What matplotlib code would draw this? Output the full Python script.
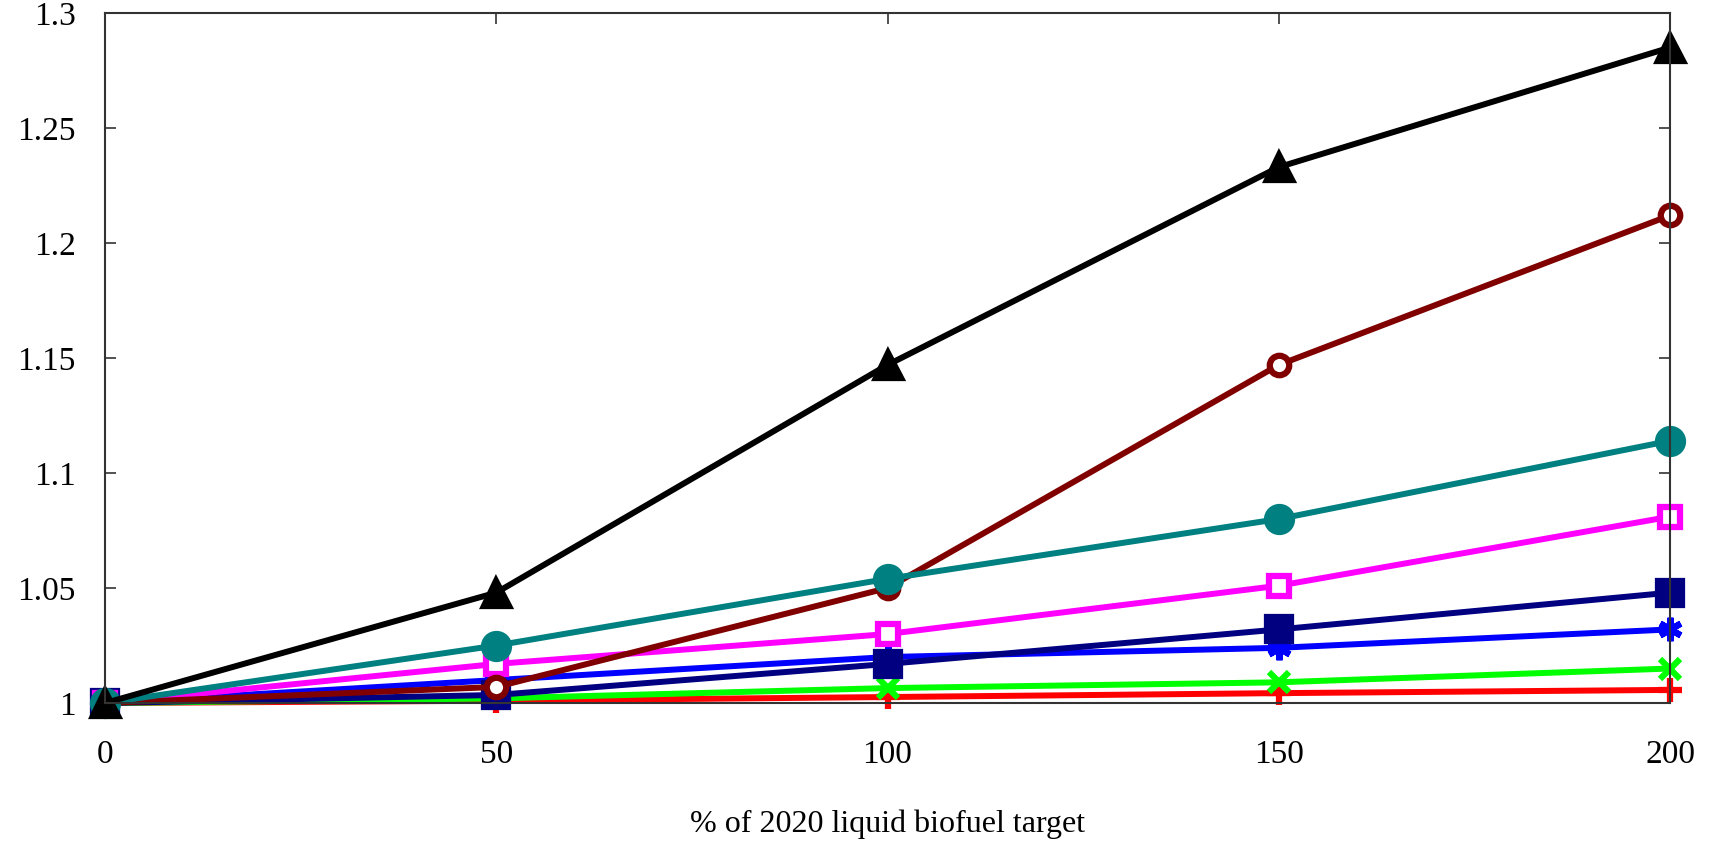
import matplotlib.pyplot as plt

x = [0, 50, 100, 150, 200]

black = [1.0, 1.048, 1.147, 1.233, 1.285]
brown = [1.0, 1.007, 1.050, 1.147, 1.212]
teal = [1.0, 1.025, 1.054, 1.080, 1.114]
magenta = [1.0, 1.017, 1.030, 1.051, 1.081]
navy = [1.0, 1.0035, 1.017, 1.032, 1.048]
blue = [1.0, 1.010, 1.020, 1.024, 1.032]
green = [1.0, 1.002, 1.0065, 1.009, 1.015]
red = [1.0, 1.001, 1.0026, 1.0043, 1.0057]

xticks = [0, 50, 100, 150, 200]
yticks = [1, 1.05, 1.1, 1.15, 1.2, 1.25, 1.3]
ytick_labels = ['1', '1.05', '1.1', '1.15', '1.2', '1.25', '1.3']

plt.rcParams['font.family'] = ['Liberation Serif', 'DejaVu Serif']

fig = plt.figure(figsize=(17.19, 8.46), dpi=100)
ax = fig.add_axes([0.0611, 0.169, 0.9104, 0.8156])

lw = 4.3
# (values, colour, marker, size, filled)
series = [
    (red, '#ff0000', '+', 17, True),
    (green, '#00ff00', 'x', 15, True),
    (blue, '#0000ff', (6, 2, 0), 17, True),
    (navy, '#000080', 's', 17, True),
    (magenta, '#ff00ff', 's', 14, False),
    (brown, '#800000', 'o', 14, False),
    (teal, '#008080', 'o', 18, True),
    (black, '#000000', '^', 18, True),
]
for vals, col, mk, ms, filled in series:
    ax.plot(x, vals, color=col, lw=lw, marker=mk, ms=ms,
            mfc=col if filled else 'white', mec=col, mew=4.5,
            clip_on=False, solid_joinstyle='miter')

ax.set_xlim(0, 200)
ax.set_ylim(1, 1.3)
ax.set_xticks(xticks)
ax.set_yticks(yticks)
ax.set_yticklabels(ytick_labels)
ax.tick_params(direction='in', length=8, width=1.2, labelsize=24,
               top=True, right=True, colors='#333333', labelcolor='black')
ax.tick_params(axis='x', pad=26)
ax.tick_params(axis='y', pad=21)
for s in ax.spines.values():
    s.set_color('#333333')
    s.set_linewidth(1.5)
ax.set_xlabel('% of 2020 liquid biofuel target', fontsize=23, labelpad=29)

fig.savefig('out.png', dpi=100)
